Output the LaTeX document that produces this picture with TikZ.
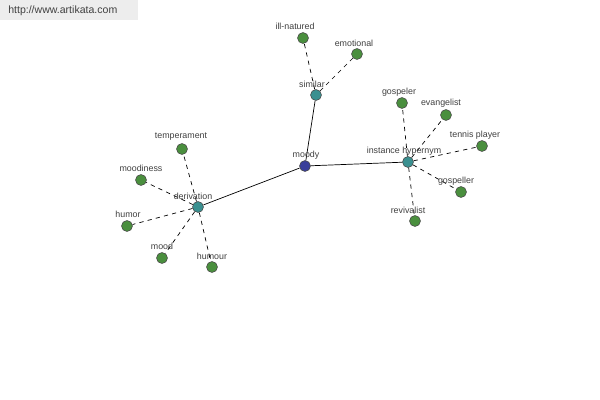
\documentclass[tikz,border=0pt]{standalone}
\usepackage{fontspec}
\setmainfont{Liberation Sans}
\definecolor{leafc}{HTML}{4A8F3E}
\definecolor{hubc}{HTML}{3A9090}
\definecolor{rootc}{HTML}{3A3F9A}
\begin{document}
\begin{tikzpicture}[x=0.025cm,y=-0.025cm,
  dot/.style={circle,draw=black!70,line width=0.4pt,minimum size=7.8pt,inner sep=0pt},
  leaf/.style={dot,fill=leafc},
  hub/.style={dot,fill=hubc},
  root/.style={dot,fill=rootc},
  lbl/.style={font=\fontsize{6.3}{7}\selectfont,text=black!75,inner sep=0pt},
  rel/.style={draw=black,line width=0.5pt},
  syn/.style={draw=black,line width=0.5pt,dash pattern=on 3pt off 3pt}]
\useasboundingbox (0,0) rectangle (600,400);
\fill[white] (0,0) rectangle (600,400);
\fill[black!7] (0,0) rectangle (138,20);
\node[anchor=west,font=\fontsize{7.5}{9}\selectfont,text=black!75,inner sep=0pt] (url) at (8,11) {http://www.artikata.com};
% hubs
\node[root] (moody) at (305,166) {};
\node[hub] (similar) at (316,95) {};
\node[hub] (inst) at (408,162) {};
\node[hub] (deriv) at (198,207) {};
% leaves
\node[leaf] (ill) at (303,38) {};
\node[leaf] (emo) at (357,54) {};
\node[leaf] (gosp1) at (402,103) {};
\node[leaf] (evan) at (446,115) {};
\node[leaf] (tennis) at (482,146) {};
\node[leaf] (gosp2) at (461,192) {};
\node[leaf] (reviv) at (415,221) {};
\node[leaf] (temp) at (182,149) {};
\node[leaf] (moodi) at (141,180) {};
\node[leaf] (humor) at (127,226) {};
\node[leaf] (mood) at (162,258) {};
\node[leaf] (humour) at (212,267) {};
% edges
\draw[rel] (moody) -- (similar);
\draw[rel] (moody) -- (inst);
\draw[rel] (moody) -- (deriv);
\foreach \a in {ill,emo} \draw[syn] (similar) -- (\a);
\foreach \a in {gosp1,evan,tennis,gosp2,reviv} \draw[syn] (inst) -- (\a);
\foreach \a in {temp,moodi,humor,mood,humour} \draw[syn] (deriv) -- (\a);
% labels
\node[lbl] (lmoody) at (306,155) {moody};
\node[lbl] (lsim) at (312,84) {similar};
\node[lbl] (linst) at (404,151) {instance hypernym};
\node[lbl] (lder) at (193,196) {derivation};
\node[lbl] (lill) at (295,26) {ill-natured};
\node[lbl] (lemo) at (354,43) {emotional};
\node[lbl] (lg1) at (399,92) {gospeler};
\node[lbl] (lev) at (441,103) {evangelist};
\node[lbl] (lten) at (475,135) {tennis player};
\node[lbl] (lg2) at (456,181) {gospeller};
\node[lbl] (lrev) at (408,210) {revivalist};
\node[lbl] (ltemp) at (181,137) {temperament};
\node[lbl] (lmoodi) at (141,168) {moodiness};
\node[lbl] (lhumor) at (128,214) {humor};
\node[lbl] (lmood) at (162,246) {mood};
\node[lbl] (lhumour) at (212,256) {humour};
\end{tikzpicture}
\end{document}
